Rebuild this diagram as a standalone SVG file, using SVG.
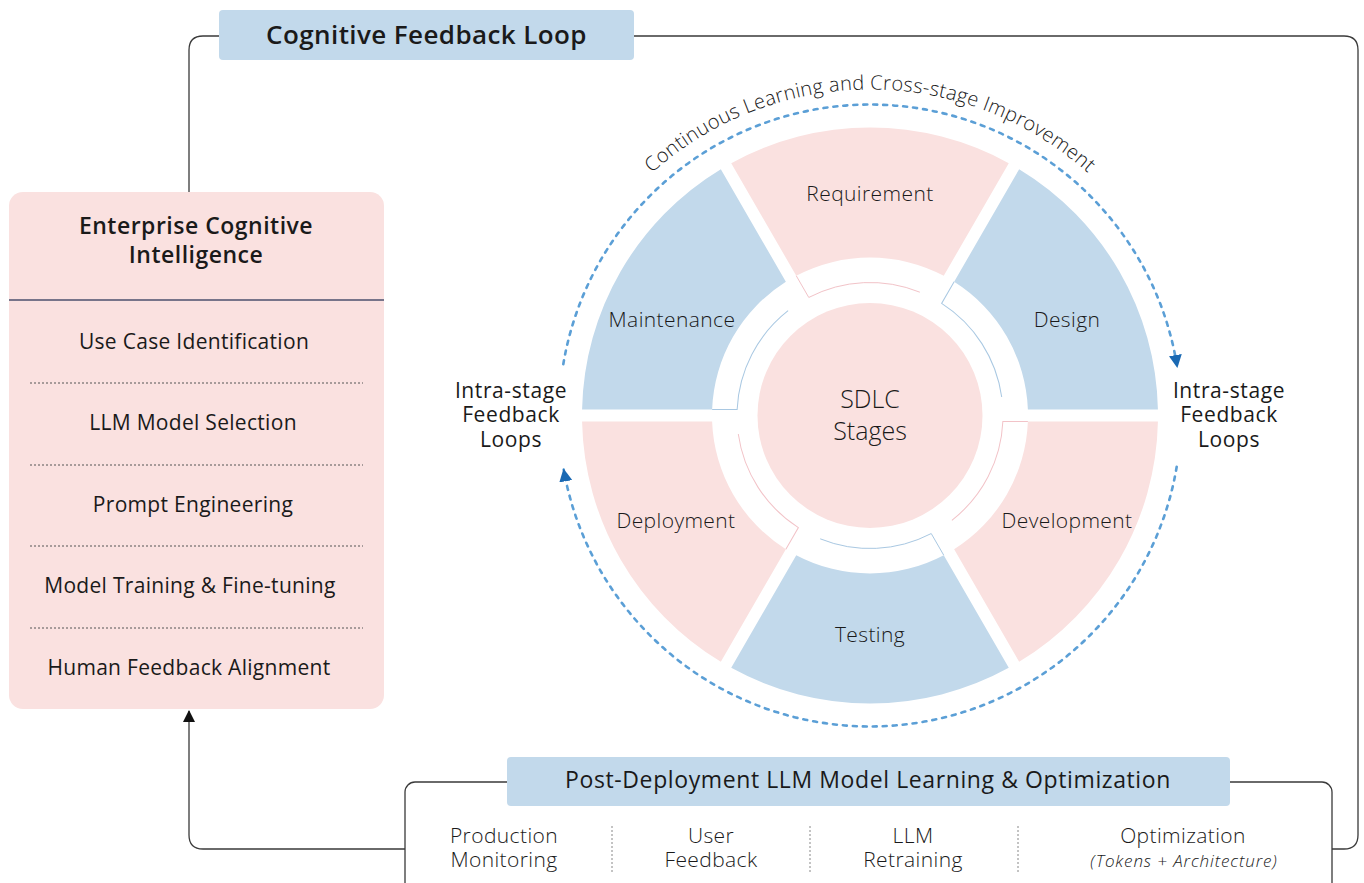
<svg xmlns="http://www.w3.org/2000/svg" xmlns:xlink="http://www.w3.org/1999/xlink" width="1364" height="883" viewBox="0 0 1364 883">
  <style>
    text { font-family: "Open Sans", "Noto Sans", "Liberation Sans", sans-serif; fill: #1a1a1a; }
    .pink { fill: #fae1e0; }
    .blue { fill: #c2d9eb; }
    .seam-pink { fill: none; stroke: #f2c3c8; stroke-width: 1; }
    .seam-blue { fill: none; stroke: #a9c8e2; stroke-width: 1; }
    .seg-label { font-size: 21px; font-weight: 300; letter-spacing: 0.4px; text-anchor: middle; }
    .title { font-weight: 600; text-anchor: middle; }
    .item { font-size: 21px; letter-spacing: 0.3px; text-anchor: middle; }
    .col { font-size: 21px; font-weight: 300; letter-spacing: 0.4px; text-anchor: middle; }
    .side { font-size: 21px; letter-spacing: 0.6px; text-anchor: middle; }
    .loop { fill: none; stroke: #3a3a3a; stroke-width: 1.3; }
    .dots-h { stroke: #555; stroke-width: 1; stroke-dasharray: 2 2; }
    .dots-v { stroke: #888; stroke-width: 1; stroke-dasharray: 2 2; }
    .orbit { fill: none; stroke: #5b9fd6; stroke-width: 2.6; stroke-dasharray: 4 6; stroke-linecap: round; }
  </style>
  <defs>
    <!-- ring sector for the top stage (240deg..300deg), 12px gaps, centred on origin -->
    <path id="seg" d="M -138.77,-252.36 A 288 288 0 0 1 138.77,-252.36 L 73.75,-139.73 A 158 158 0 0 0 -73.75,-139.73 Z"/>
    <!-- thin inner trace of each stage -->
    <path id="seam" d="M -73.75,-139.73 L -61.23,-118.06 A 133 133 0 0 1 49.82,-123.32"/>
    <marker id="head-blue" viewBox="0 0 12 12" refX="11" refY="6" markerWidth="13" markerHeight="13" markerUnits="userSpaceOnUse" orient="auto">
      <path d="M0,0 L12,6 L0,12 Z" fill="#1a69b3"/>
    </marker>
    <marker id="head-black" viewBox="0 0 12 12" refX="11" refY="6" markerWidth="12" markerHeight="12" markerUnits="userSpaceOnUse" orient="auto">
      <path d="M0,0 L12,6 L0,12 Z" fill="#111"/>
    </marker>
    <path id="orbit-text" d="M 544,415.5 A 326 326 0 0 1 1196,415.5"/>
  </defs>

  <!-- outer feedback loop connectors -->
  <g id="connectors">
    <path class="loop" d="M 189,192 L 189,50 Q 189,36 203,36 L 219,36"/>
    <path class="loop" d="M 634,36 L 1344,36 Q 1358,36 1358,50 L 1358,835 Q 1358,849 1344,849 L 1332,849"/>
    <path class="loop" d="M 405,849 L 203,849 Q 189,849 189,835 L 189,711" marker-end="url(#head-black)"/>
    <path class="orbit" d="M 563.3,364.2 A 311 311 0 0 1 1177.2,366.9" marker-end="url(#head-blue)"/>
    <path class="orbit" d="M 1176.7,466.8 A 311 311 0 0 1 563.7,469.5" marker-end="url(#head-blue)"/>
  </g>

  <!-- top banner -->
  <g id="cognitive-feedback-loop">
    <rect x="219" y="10" width="415" height="50" rx="4" class="blue"/>
    <text x="426.5" y="44" class="title" font-size="26" letter-spacing="0.4">Cognitive Feedback Loop</text>
  </g>

  <!-- left panel -->
  <g id="enterprise-cognitive-intelligence">
    <rect x="9" y="192" width="375" height="517" rx="14" class="pink"/>
    <text x="196" y="234" class="title" font-size="23" letter-spacing="0.5">Enterprise Cognitive</text>
    <text x="196" y="263" class="title" font-size="23" letter-spacing="0.5">Intelligence</text>
    <line x1="9" y1="300" x2="384" y2="300" stroke="#4b4f6e" stroke-width="1.5"/>
    <text x="194" y="349" class="item">Use Case Identification</text>
    <line x1="30" y1="383" x2="363" y2="383" class="dots-h"/>
    <text x="193" y="430" class="item">LLM Model Selection</text>
    <line x1="30" y1="465" x2="363" y2="465" class="dots-h"/>
    <text x="193" y="512" class="item">Prompt Engineering</text>
    <line x1="30" y1="546" x2="363" y2="546" class="dots-h"/>
    <text x="190" y="593" class="item">Model Training &amp; Fine-tuning</text>
    <line x1="30" y1="628" x2="363" y2="628" class="dots-h"/>
    <text x="189" y="675" class="item">Human Feedback Alignment</text>
  </g>

  <!-- arc caption -->
  <text font-size="20" font-weight="300" letter-spacing="0.3"><textPath href="#orbit-text" startOffset="50%" text-anchor="middle">Continuous Learning and Cross-stage Improvement</textPath></text>

  <!-- SDLC wheel -->
  <g id="requirement">
    <use href="#seg" class="pink" transform="translate(870 415.5)"/>
    <use href="#seam" class="seam-pink" transform="translate(870 415.5)"/>
    <text x="870" y="201" class="seg-label">Requirement</text>
  </g>
  <g id="design">
    <use href="#seg" class="blue" transform="translate(870 415.5) rotate(60)"/>
    <use href="#seam" class="seam-blue" transform="translate(870 415.5) rotate(60)"/>
    <text x="1067" y="327" class="seg-label">Design</text>
  </g>
  <g id="development">
    <use href="#seg" class="pink" transform="translate(870 415.5) rotate(120)"/>
    <use href="#seam" class="seam-pink" transform="translate(870 415.5) rotate(120)"/>
    <text x="1067" y="528" class="seg-label">Development</text>
  </g>
  <g id="testing">
    <use href="#seg" class="blue" transform="translate(870 415.5) rotate(180)"/>
    <use href="#seam" class="seam-blue" transform="translate(870 415.5) rotate(180)"/>
    <text x="870" y="642" class="seg-label">Testing</text>
  </g>
  <g id="deployment">
    <use href="#seg" class="pink" transform="translate(870 415.5) rotate(240)"/>
    <use href="#seam" class="seam-pink" transform="translate(870 415.5) rotate(240)"/>
    <text x="676" y="528" class="seg-label">Deployment</text>
  </g>
  <g id="maintenance">
    <use href="#seg" class="blue" transform="translate(870 415.5) rotate(300)"/>
    <use href="#seam" class="seam-blue" transform="translate(870 415.5) rotate(300)"/>
    <text x="672" y="327" class="seg-label">Maintenance</text>
  </g>
  <g id="sdlc-stages">
    <circle cx="870" cy="415.5" r="112.5" class="pink"/>
    <text x="870" y="408" font-size="25" font-weight="300" text-anchor="middle">SDLC</text>
    <text x="870" y="440" font-size="25" font-weight="300" text-anchor="middle">Stages</text>
  </g>

  <!-- side captions -->
  <g id="intra-stage-left">
    <text x="511" y="398" class="side">Intra-stage</text>
    <text x="511" y="422" class="side">Feedback</text>
    <text x="511" y="447" class="side">Loops</text>
  </g>
  <g id="intra-stage-right">
    <text x="1229" y="398" class="side">Intra-stage</text>
    <text x="1229" y="422" class="side">Feedback</text>
    <text x="1229" y="447" class="side">Loops</text>
  </g>

  <!-- bottom panel -->
  <g id="post-deployment">
    <rect x="405" y="782" width="927" height="130" rx="10" fill="#fff" stroke="#3a3a3a" stroke-width="1.3"/>
    <rect x="507" y="757" width="723" height="49" rx="4" class="blue"/>
    <text x="868" y="788" font-size="23" letter-spacing="0.6" text-anchor="middle">Post-Deployment LLM Model Learning &amp; Optimization</text>
    <text x="504" y="843" class="col">Production</text>
    <text x="504" y="867" class="col">Monitoring</text>
    <line x1="612" y1="826" x2="612" y2="872" class="dots-v"/>
    <text x="711" y="843" class="col">User</text>
    <text x="711" y="867" class="col">Feedback</text>
    <line x1="810" y1="826" x2="810" y2="872" class="dots-v"/>
    <text x="913" y="843" class="col">LLM</text>
    <text x="913" y="867" class="col">Retraining</text>
    <line x1="1018" y1="826" x2="1018" y2="872" class="dots-v"/>
    <text x="1183" y="843" class="col">Optimization</text>
    <text x="1184" y="867" font-size="17" font-weight="300" font-style="italic" letter-spacing="0.9" text-anchor="middle">(Tokens + Architecture)</text>
  </g>
</svg>
